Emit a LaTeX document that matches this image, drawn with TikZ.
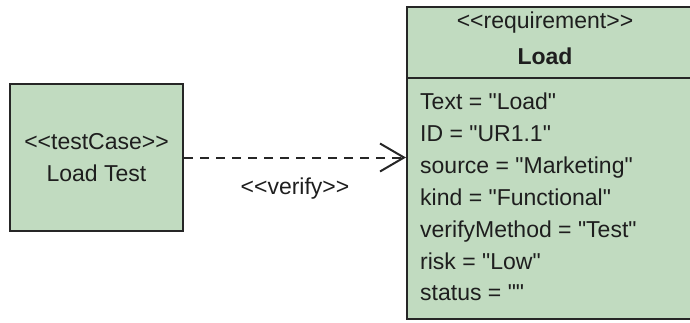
\documentclass[tikz,border=0pt]{standalone}
\usepackage{fontspec}
\newfontfamily\umlfont{Liberation Sans}
\usetikzlibrary{arrows.meta}
\definecolor{reqgreen}{RGB}{193,219,192}
\definecolor{umlline}{RGB}{38,38,38}
\definecolor{umltxt}{RGB}{30,30,30}
\tikzset{
  umlbox/.style={draw=umlline, line width=2pt, fill=reqgreen, inner sep=0pt},
  umltext/.style={font=\umlfont\fontsize{23}{32}\selectfont, text=umltxt, inner sep=0pt},
  attr/.style={umltext, anchor=base west},
  verifyarrow/.style={draw=umlline, line width=2pt, dash pattern=on 9pt off 7pt,
    -{Straight Barb[length=24pt, width=28pt, line width=2pt]}}
}
\begin{document}
\begin{tikzpicture}[x=1pt, y=-1pt]
    \useasboundingbox (0,0) rectangle (690,322);
    \clip (0,0) rectangle (690,322);

    % test case block
    \node [umlbox, umltext, align=center, minimum width=173pt, minimum height=147pt]
      (tc) at (96.5,157.5) {<<testCase>>\\Load Test};

    % requirement block, runs past the right edge
    \node [umlbox, minimum width=290pt, minimum height=312pt] (req) at (552,163) {};
    \coordinate (hdr) at (0,78);
    \draw [umlline, line width=2pt] (req.west |- hdr) -- (req.east |- hdr);

    % header
    \node [umltext] (reqst) at (545,23) {<<requirement>>};
    \node [umltext, font=\umlfont\bfseries\fontsize{23}{32}\selectfont] (reqname) at (545,56) {Load};

    % attributes
    \node [attr] (atext) at (420,109) {Text = "Load"};
    \node [attr] (aid) at (420,141) {ID = "UR1.1"};
    \node [attr] (asource) at (420,173) {source = "Marketing"};
    \node [attr] (akind) at (420,205) {kind = "Functional"};
    \node [attr] (amethod) at (420,237) {verifyMethod = "Test"};
    \node [attr] (arisk) at (420,269) {risk = "Low"};
    \node [attr] (astatus) at (420,300) {status = ""};

    % verify dependency
    \draw [verifyarrow] (tc.east) -- (tc.east -| req.west)
      node [umltext, midway, yshift=-31pt] (verify) {<<verify>>};
\end{tikzpicture}
\end{document}
